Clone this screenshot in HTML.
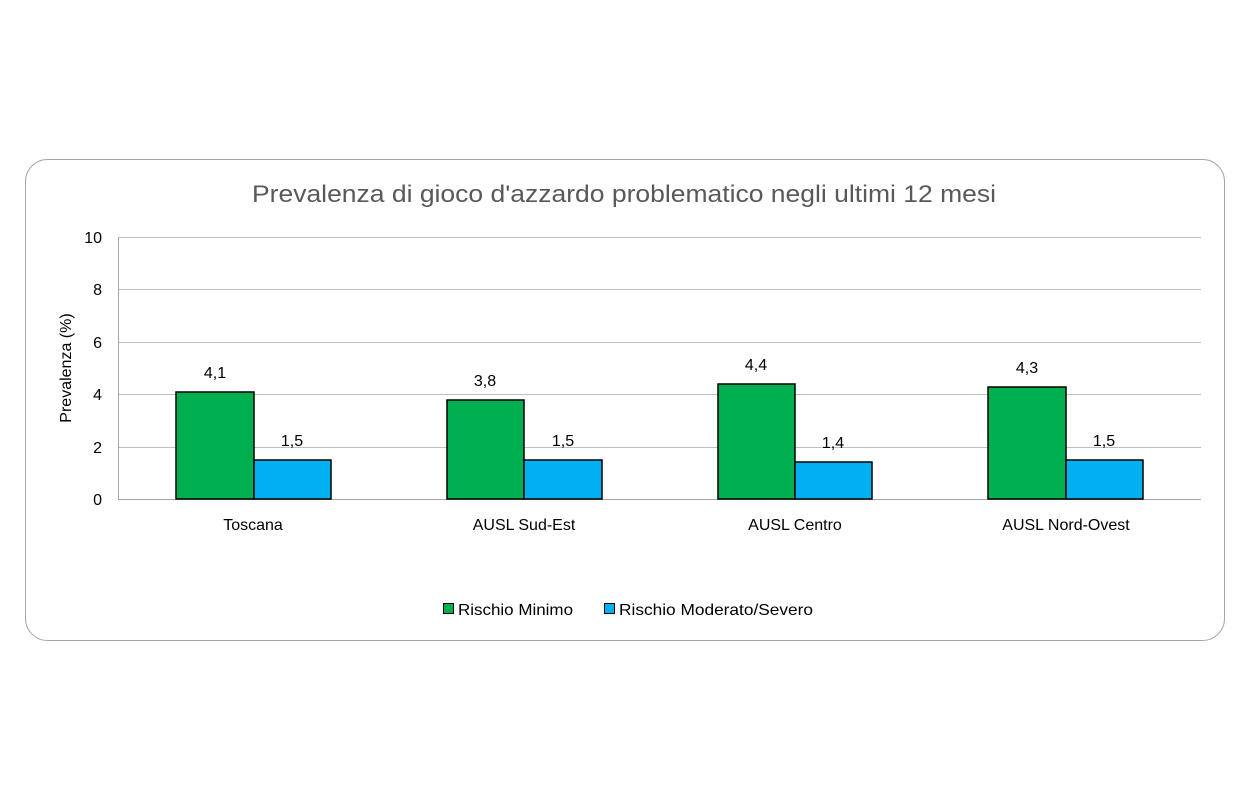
<!DOCTYPE html>
<html><head><meta charset="utf-8"><style>body{margin:0;background:#fff}svg{display:block}text{font-family:"Liberation Sans",sans-serif}</style></head>
<body>
<svg width="1250" height="800" xmlns="http://www.w3.org/2000/svg">
<rect x="25.5" y="159.5" width="1199" height="481" rx="22" ry="22" fill="#fff" stroke="#a6a6a6" stroke-width="1"/>
<text x="252" y="202" font-size="24" fill="#595959" textLength="744" lengthAdjust="spacingAndGlyphs">Prevalenza di gioco d'azzardo problematico negli ultimi 12 mesi</text>
<g stroke="#bfbfbf" stroke-width="1">
<line x1="118" y1="237.5" x2="1201" y2="237.5"/>
<line x1="118" y1="289.5" x2="1201" y2="289.5"/>
<line x1="118" y1="342.5" x2="1201" y2="342.5"/>
<line x1="118" y1="394.5" x2="1201" y2="394.5"/>
<line x1="118" y1="447.5" x2="1201" y2="447.5"/>
</g>
<line x1="118.5" y1="237" x2="118.5" y2="499" stroke="#a6a6a6"/>
<line x1="118" y1="499.5" x2="1201" y2="499.5" stroke="#a6a6a6"/>
<g font-size="16" fill="#000" text-anchor="end">
<text x="102" y="243">10</text><text x="102" y="295">8</text><text x="102" y="348">6</text><text x="102" y="400">4</text><text x="102" y="453">2</text><text x="102" y="505">0</text>
</g>
<text transform="translate(71,368) rotate(-90)" font-size="16" text-anchor="middle">Prevalenza (%)</text>
<g stroke="#000" stroke-width="1.5">
<rect x="176" y="392" width="78" height="107" fill="#00b050"/>
<rect x="254" y="460" width="77" height="39" fill="#00b0f0"/>
<rect x="447" y="400" width="77" height="99" fill="#00b050"/>
<rect x="524" y="460" width="78" height="39" fill="#00b0f0"/>
<rect x="718" y="384" width="77" height="115" fill="#00b050"/>
<rect x="795" y="462" width="77" height="37" fill="#00b0f0"/>
<rect x="988" y="387" width="78" height="112" fill="#00b050"/>
<rect x="1066" y="460" width="77" height="39" fill="#00b0f0"/>
</g>
<g font-size="16" text-anchor="middle">
<text x="215" y="378">4,1</text><text x="292" y="446">1,5</text>
<text x="485" y="386">3,8</text><text x="563" y="446">1,5</text>
<text x="756" y="370">4,4</text><text x="833" y="448">1,4</text>
<text x="1027" y="373">4,3</text><text x="1104" y="446">1,5</text>
<text x="253" y="530">Toscana</text><text x="524" y="530">AUSL Sud-Est</text>
<text x="795" y="530">AUSL Centro</text><text x="1066" y="530">AUSL Nord-Ovest</text>
</g>
<rect x="443.5" y="603.5" width="10" height="10" fill="#00b050" stroke="#000"/>
<text x="458" y="615" font-size="16" textLength="115" lengthAdjust="spacingAndGlyphs">Rischio Minimo</text>
<rect x="604.5" y="603.5" width="10" height="10" fill="#00b0f0" stroke="#000"/>
<text x="619" y="615" font-size="16" textLength="194" lengthAdjust="spacingAndGlyphs">Rischio Moderato/Severo</text>
</svg>
</body></html>
